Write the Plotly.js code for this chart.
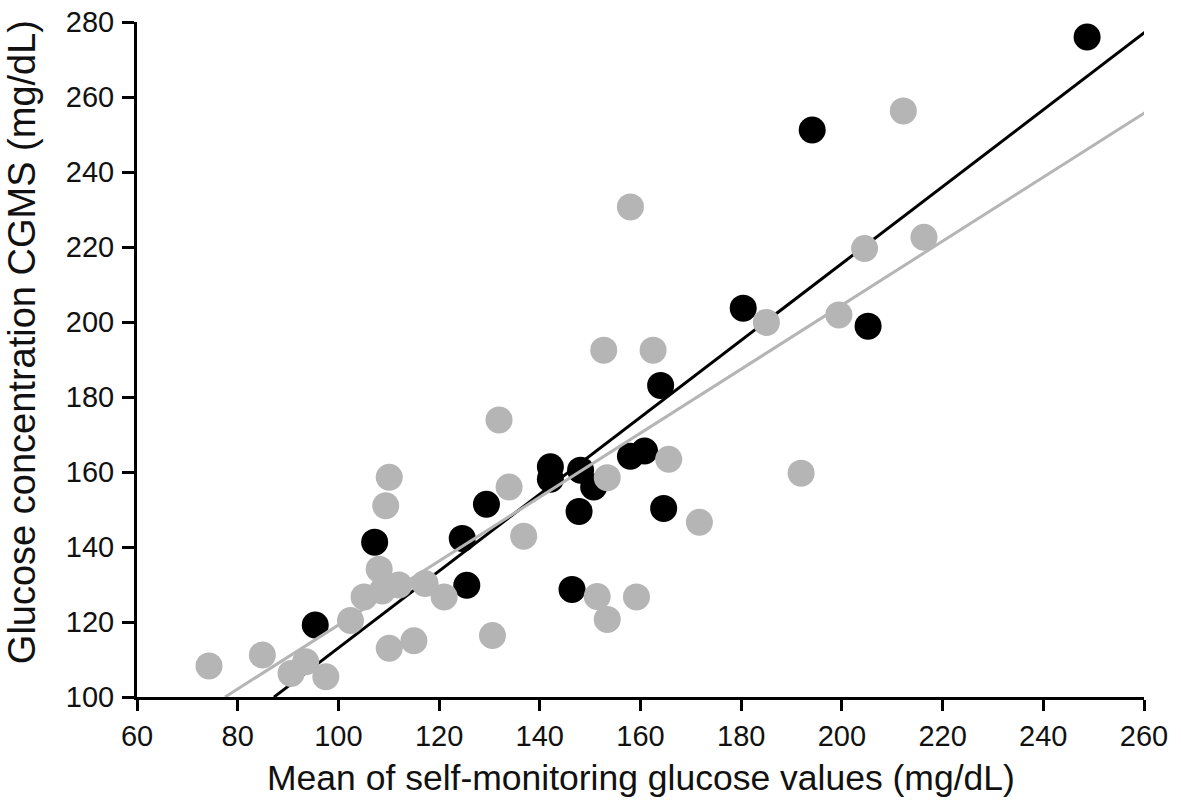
<!DOCTYPE html>
<html>
<head>
<meta charset="utf-8">
<script src="https://cdn.plot.ly/plotly-3.0.1.min.js"></script>
<style>
  html, body { margin: 0; padding: 0; background: #fff; }
  #chart { width: 1181px; height: 809px; }
</style>
</head>
<body>
<div id="chart"></div>
<script>
// black group
const blackX = [95.4, 107.2, 124.6, 125.5, 129.4, 142.1, 142.1, 146.4, 147.8, 148.1,
                150.7, 158.0, 160.8, 164.0, 164.6, 180.4, 194.1, 205.2, 248.7];
const blackY = [119.2, 141.3, 142.3, 129.8, 151.4, 161.4, 158.1, 128.7, 149.5, 160.5,
                156.0, 164.2, 165.6, 183.1, 150.3, 203.7, 251.2, 198.9, 276.0];

// grey group
const greyX = [74.3, 84.9, 90.6, 93.5, 97.5, 102.4, 105.1, 108.1, 108.7, 109.4,
               110.1, 110.1, 112.0, 115.0, 117.2, 121.0, 130.6, 131.9, 133.9, 136.8,
               151.4, 152.7, 153.4, 153.4, 158.0, 159.2, 162.5, 165.6, 171.7, 185.0,
               191.9, 199.4, 204.5, 212.2, 216.3];
const greyY = [108.3, 111.2, 106.3, 109.4, 105.4, 120.4, 126.7, 134.1, 128.3, 151.0,
               158.6, 113.0, 129.9, 115.0, 130.3, 126.7, 116.4, 173.9, 156.0, 142.9,
               126.8, 192.5, 158.5, 120.7, 230.7, 126.7, 192.5, 163.4, 146.6, 199.9,
               159.7, 201.9, 219.6, 256.3, 222.6];

// regression lines: [black, grey]
const fitSlope = [1.025, 0.853];
const fitIntercept = [10.6, 33.9];
const fitXStart = [87.2, 77.5];
const fitXEnd = [260.5, 260.8];

const xTicks = [60, 80, 100, 120, 140, 160, 180, 200, 220, 240, 260];
const yTicks = [100, 120, 140, 160, 180, 200, 220, 240, 260, 280];

const xTitle = 'Mean of self-monitoring glucose values (mg/dL)';
const yTitle = 'Glucose concentration CGMS (mg/dL)';

const grey = '#b5b5b5';
const markerSize = 27;
const fontFamily = 'Liberation Sans, Arial, sans-serif';

function fitLine(i, color) {
    const xs = [fitXStart[i], fitXEnd[i]];
    return {
        x: xs,
        y: xs.map(v => fitSlope[i] * v + fitIntercept[i]),
        mode: 'lines',
        line: {color: color, width: 3},
        hoverinfo: 'skip'
    };
}

const data = [
    {x: blackX, y: blackY, mode: 'markers', marker: {color: '#000', size: markerSize}},
    fitLine(0, '#000'),
    fitLine(1, grey),
    {x: greyX, y: greyY, mode: 'markers', marker: {color: grey, size: markerSize}}
];

const axisFont = {family: fontFamily, size: 29, color: '#111'};

// shared axis look
function axis(range, ticks) {
    return {
        range: range,
        tickvals: ticks,
        ticks: 'outside',
        ticklen: 11,
        tickwidth: 3,
        tickcolor: '#000',
        showline: true,
        linewidth: 3,
        linecolor: '#000',
        showgrid: false,
        zeroline: false,
        tickfont: axisFont
    };
}

const layout = {
    width: 1181,
    height: 809,
    showlegend: false,
    paper_bgcolor: '#fff',
    plot_bgcolor: '#fff',
    margin: {l: 137, r: 37, t: 22, b: 112},
    xaxis: axis([60, 260], xTicks),
    yaxis: Object.assign(axis([100, 280], yTicks), {ticklen: 12, ticklabelstandoff: 2}),
    // titles drawn as annotations so they can sit where the original has them
    annotations: [
        {
            text: xTitle, xref: 'paper', yref: 'paper', x: 0.5, y: -0.12,
            xanchor: 'center', yanchor: 'middle', showarrow: false,
            font: {family: fontFamily, size: 35.5, color: '#111'}
        },
        {
            text: yTitle, xref: 'paper', yref: 'paper', x: -0.114, y: 0.526,
            xanchor: 'center', yanchor: 'middle', showarrow: false, textangle: -90,
            font: {family: fontFamily, size: 38, color: '#111'}
        }
    ]
};

Plotly.newPlot('chart', data, layout, {staticPlot: true});
</script>
</body>
</html>
